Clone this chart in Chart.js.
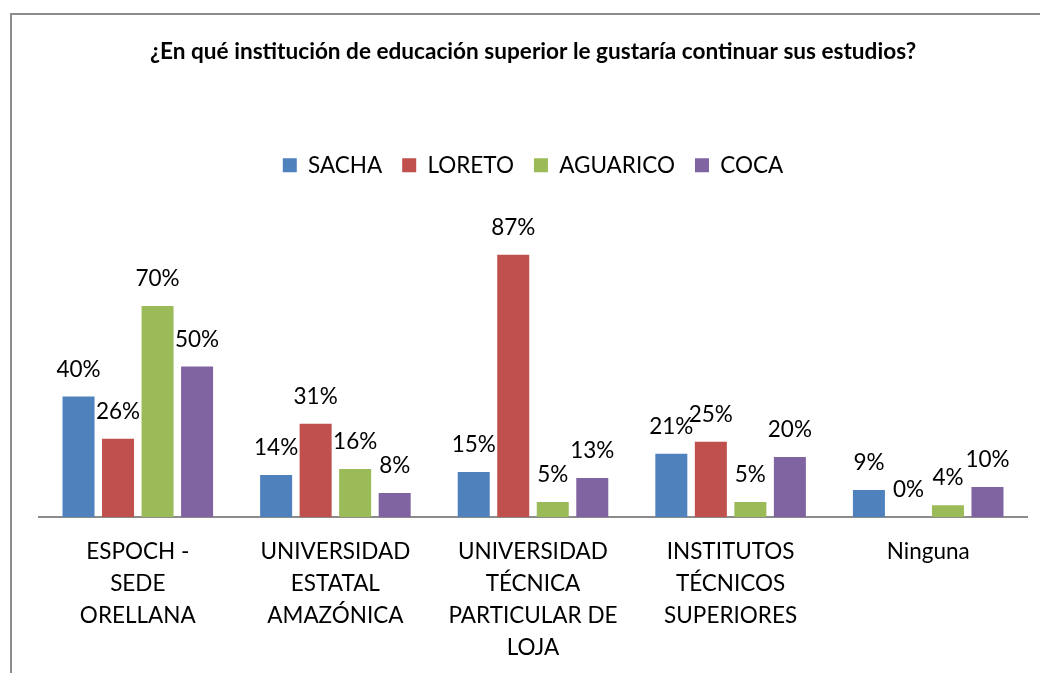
<!DOCTYPE html>
<html>
<head>
<meta charset="utf-8">
<script src="https://cdn.jsdelivr.net/npm/chart.js@4"></script>
<style>
  html, body { margin: 0; padding: 0; background: #fff; }
  #wrap { position: relative; width: 1040px; height: 673px; }
  #frame { position: absolute; left: 10px; top: 13px; width: 1040px; height: 700px;
           border-left: 2px solid #8c8c8c; border-top: 2px solid #8c8c8c; }
  canvas { position: absolute; left: 0; top: 0; }
</style>
</head>
<body>
<div id="wrap">
  <div id="frame"></div>
  <canvas id="myChart" width="1040" height="673"></canvas>
</div>
<script>
const categories = [
    ['ESPOCH -', 'SEDE', 'ORELLANA'],
    ['UNIVERSIDAD', 'ESTATAL', 'AMAZÓNICA'],
    ['UNIVERSIDAD', 'TÉCNICA', 'PARTICULAR DE', 'LOJA'],
    ['INSTITUTOS', 'TÉCNICOS', 'SUPERIORES'],
    ['Ninguna']
];
const sacha = [40, 14, 15, 21, 9];
const loreto = [26, 31, 87, 25, 0];
const aguarico = [70, 16, 5, 5, 4];
const coca = [50, 8, 13, 20, 10];

const FONT = 'Lato, "Open Sans", sans-serif';

// draws the % label above each bar
const barLabels = {
    id: 'barLabels',
    afterDatasetsDraw(chart) {
        const c = chart.ctx;
        c.save();
        c.font = '22.5px ' + FONT;
        c.fillStyle = '#000';
        c.textAlign = 'center';
        c.textBaseline = 'middle';
        chart.data.datasets.forEach((ds, i) => {
            chart.getDatasetMeta(i).data.forEach((bar, j) => {
                c.fillText(ds.data[j] + '%', bar.x, bar.y - 27);
            });
        });
        c.restore();
    }
};

// extra space under the legend
const legendGap = {
    id: 'legendGap',
    beforeInit(chart) {
        const fit = chart.legend.fit;
        chart.legend.fit = function () {
            fit.bind(chart.legend)();
            this.height += 29;
        };
    }
};

const ctx = document.getElementById('myChart');

new Chart(ctx, {
    type: 'bar',
    data: {
        labels: categories,
        datasets: [
            { label: 'SACHA', data: sacha, backgroundColor: '#4F81BD' },
            { label: 'LORETO', data: loreto, backgroundColor: '#C0504D' },
            { label: 'AGUARICO', data: aguarico, backgroundColor: '#9BBB59' },
            { label: 'COCA', data: coca, backgroundColor: '#8064A2' }
        ]
    },
    options: {
        responsive: false,
        animation: false,
        layout: { padding: { left: 39, right: 13, top: 0, bottom: -2 } },
        datasets: {
            bar: { categoryPercentage: 0.8, barPercentage: 0.81 }
        },
        scales: {
            x: {
                grid: { display: false },
                border: { color: '#8c8c8c', width: 2 },
                ticks: {
                    color: '#000',
                    padding: 11,
                    maxRotation: 0,
                    autoSkip: false,
                    font: { family: FONT, size: 22.5, lineHeight: 1.42 }
                }
            },
            y: {
                display: false,
                min: 0,
                max: 100
            }
        },
        plugins: {
            title: {
                display: true,
                text: '¿En qué institución de educación superior le gustaría continuar sus estudios?',
                color: '#000',
                font: { family: FONT, size: 22.6, weight: 'bold' },
                padding: { top: 38, bottom: 69 }
            },
            legend: {
                labels: {
                    color: '#000',
                    boxWidth: 14,
                    boxHeight: 14,
                    padding: 20,
                    font: { family: FONT, size: 22.5 }
                }
            },
            tooltip: { enabled: false }
        }
    },
    plugins: [barLabels, legendGap]
});
</script>
</body>
</html>
